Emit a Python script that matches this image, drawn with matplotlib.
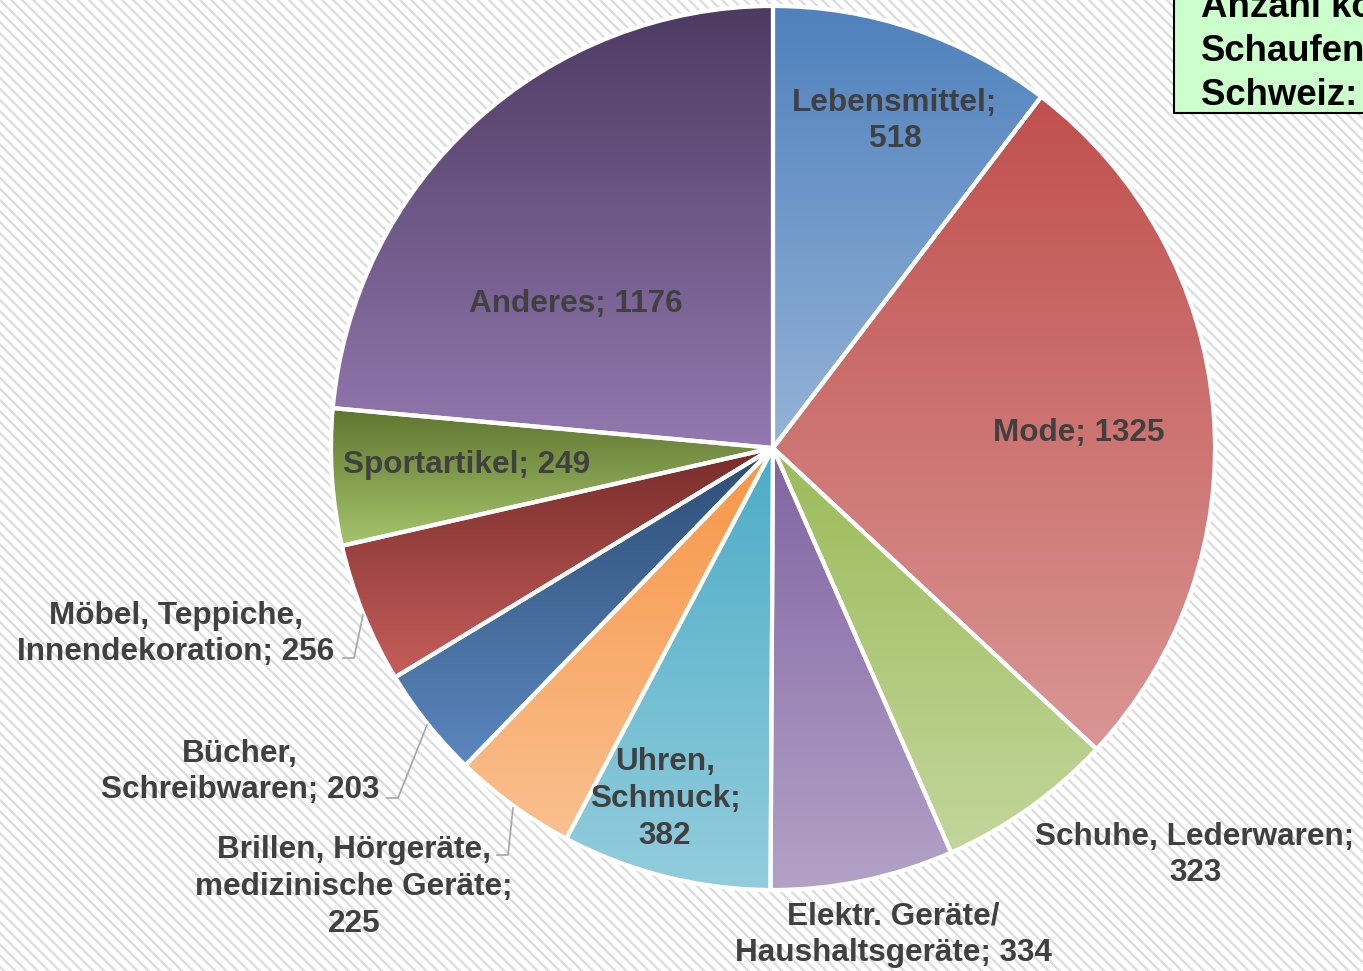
import numpy as np
import matplotlib
matplotlib.use("Agg")
import matplotlib.pyplot as plt
from matplotlib.colors import to_rgb
from matplotlib.patches import Rectangle

# Schaufenster nach Branche
categories = [
    "Lebensmittel", "Mode", "Schuhe, Lederwaren", "Elektr. Geräte/\nHaushaltsgeräte",
    "Uhren,\nSchmuck", "Brillen, Hörgeräte,\nmedizinische Geräte", "Bücher,\nSchreibwaren",
    "Möbel, Teppiche,\nInnendekoration", "Sportartikel", "Anderes",
]
values = [518, 1325, 323, 334, 382, 225, 203, 256, 249, 1176]
label_texts = [
    "Lebensmittel;\n518", "Mode; 1325", "Schuhe, Lederwaren;\n323",
    "Elektr. Geräte/\nHaushaltsgeräte; 334", "Uhren,\nSchmuck;\n382",
    "Brillen, Hörgeräte,\nmedizinische Geräte;\n225", "Bücher,\nSchreibwaren; 203",
    "Möbel, Teppiche,\nInnendekoration; 256", "Sportartikel; 249", "Anderes; 1176",
]
box_lines = ["Anzahl kontrollierte", "Schaufenster", "Schweiz: 4991"]

# gradient colours (top, bottom)
grad_top = ["#4F81BD", "#C0504D", "#9BBB59", "#8064A2", "#4BACC6",
            "#F79646", "#2C4D75", "#772C2A", "#5F7530", "#4D3A62"]
grad_bot = ["#95B3D7", "#D99694", "#C3D69B", "#B3A2C7", "#93CDDD",
            "#FAC090", "#5B87BE", "#C65E5B", "#A5C56C", "#9279AF"]

# label positions in pixel coords
label_pos = [(895, 121), (1079, 433), (1195, 855), (893, 935), (665, 799),
             (354, 887), (240, 772), (176, 634), (467, 465), (576, 304)]

W, H = 1363, 971
fig = plt.figure(figsize=(W / 100, H / 100), dpi=100)
ax = fig.add_axes([0, 0, 1, 1])

plt.rcParams["hatch.linewidth"] = 1.6
plt.rcParams["hatch.color"] = "#DCDCDC"
bg = Rectangle((0, 0), W, H, facecolor="white", edgecolor="#DCDCDC",
               hatch="\\\\\\", linewidth=0, zorder=0)
ax.add_patch(bg)

cx, cy, r = 773, 448, 442
wedges, _ = ax.pie(values, center=(cx, cy), radius=r, startangle=-90,
                   counterclock=True,
                   wedgeprops=dict(facecolor="none", edgecolor="white",
                                   linewidth=3, zorder=3))

for w, c0, c1 in zip(wedges, grad_top, grad_bot):
    ext = w.get_path().get_extents()
    t = np.linspace(0, 1, 256)[:, None]
    a, b = np.array(to_rgb(c0)), np.array(to_rgb(c1))
    img = (a + (b - a) * t)[:, None, :].repeat(2, axis=1)
    im = ax.imshow(img, extent=(ext.x0, ext.x1, ext.y0, ext.y1), origin="lower",
                   aspect="auto", zorder=2, interpolation="bilinear")
    im.set_clip_path(w)

font = ["Liberation Sans", "DejaVu Sans"]
for txt, (x, y) in zip(label_texts, label_pos):
    ax.text(x, y, txt, ha="center", va="center", multialignment="center",
            fontsize=22.7, fontweight="bold", color="#404040", family=font,
            linespacing=1.3, zorder=5)

# leader lines
leaders = [
    [(343, 658), (354, 658), (363, 615)],
    [(387, 798), (398, 798), (427, 725)],
    [(497, 855), (508, 855), (513, 808)],
]
for pts in leaders:
    xs, ys = zip(*pts)
    ax.plot(xs, ys, color="#A6A6A6", linewidth=1.2, zorder=4)

# Textbox oben rechts (im Original am Rand abgeschnitten)
ax.add_patch(Rectangle((1174, -20), 300, 133, facecolor="#CCFFCC",
                       edgecolor="black", linewidth=1.5, zorder=6))
for i, line in enumerate(box_lines):
    ax.text(1201, 17 + 44 * i, line, ha="left", va="baseline", fontsize=26.4,
            fontweight="bold", color="black", family=font, zorder=7)

ax.set_xlim(0, W)
ax.set_ylim(H, 0)
ax.set_aspect("auto")
ax.axis("off")

fig.savefig("out.png", dpi=100)
